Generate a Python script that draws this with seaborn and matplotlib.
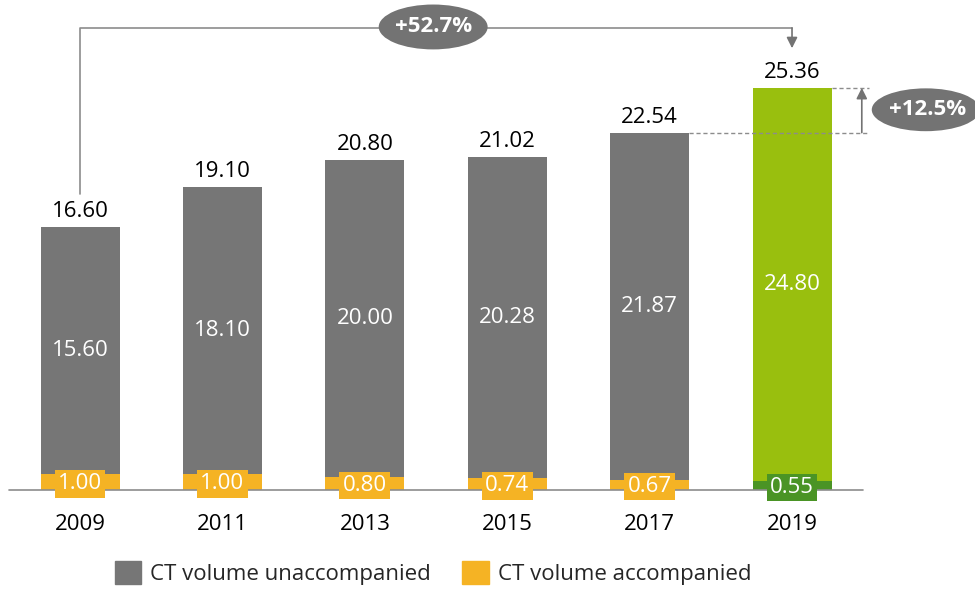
import matplotlib
matplotlib.use("Agg")
import matplotlib.pyplot as plt
from matplotlib.patches import Ellipse, Patch
import seaborn as sns

years = ["2009", "2011", "2013", "2015", "2017", "2019"]
unaccompanied = [15.60, 18.10, 20.00, 20.28, 21.87, 24.80]
accompanied = [1.00, 1.00, 0.80, 0.74, 0.67, 0.55]
totals = [16.60, 19.10, 20.80, 21.02, 22.54, 25.36]
growth_total = "+52.7%"
growth_last = "+12.5%"

GRAY = "#767676"
ORANGE = "#F5B324"
LIGHT_GREEN = "#99BF0E"
DARK_GREEN = "#4A9425"
ANNOT = "#737373"
LINE = "#8C8C8C"

top_colors = [GRAY] * 5 + [LIGHT_GREEN]
bottom_colors = [ORANGE] * 5 + [DARK_GREEN]

sns.set_theme(style="white")
plt.rcParams["font.family"] = ["Open Sans", "DejaVu Sans"]

fig = plt.figure(figsize=(9.75, 5.89), dpi=100)
ax = fig.add_axes([0, 0, 1, 1])

stack = [u + a for u, a in zip(unaccompanied, accompanied)]

# full stack first, bottom part drawn over it
sns.barplot(x=years, y=stack, hue=years, palette=top_colors, legend=False,
            width=0.555, saturation=1, linewidth=0, ax=ax, zorder=2)
sns.barplot(x=years, y=accompanied, hue=years, palette=bottom_colors,
            legend=False, width=0.555, saturation=1, linewidth=0, ax=ax,
            zorder=3)

ax.set_xlim(-0.562, 6.285)
ax.set_ylim(-6.23, 30.9)
ax.axis("off")

# baseline
ax.plot([-0.5, 5.5], [0, 0], color=LINE, lw=1.2, zorder=4)

fs = 16
for i, yr in enumerate(years):
    # total on top
    ax.text(i, totals[i] + 0.3, f"{totals[i]:.2f}", ha="center", va="bottom",
            fontsize=fs, color="black")
    # unaccompanied in middle
    mid = accompanied[i] + unaccompanied[i] / 2
    ax.text(i, mid, f"{unaccompanied[i]:.2f}", ha="center", va="center",
            fontsize=fs, color="white", zorder=5)
    # accompanied box label
    ax.text(i, accompanied[i] / 2 - 0.1, f"{accompanied[i]:.2f}",
            ha="center", va="center", fontsize=fs, color="white", zorder=6,
            bbox=dict(boxstyle="square,pad=0.15", fc=bottom_colors[i],
                      ec="none"))
    # year label
    ax.text(i, -2.15, yr, ha="center", va="center", fontsize=fs,
            color="black")

# +52.7% bracket from first to last year
y_top = 29.14
ax.plot([0, 0, 5], [totals[0] + 2.1, y_top, y_top], color=LINE, lw=1.2)
ax.annotate("", xy=(5, totals[-1] + 2.5), xytext=(5, y_top),
            arrowprops=dict(arrowstyle="-|>", color=ANNOT, lw=1.2,
                            mutation_scale=16, shrinkA=0, shrinkB=0))
ax.add_patch(Ellipse((2.48, 29.2), 0.765, 2.83, fc=ANNOT, ec="none",
                     zorder=5))
ax.text(2.48, 29.2, growth_total, ha="center", va="center", fontsize=fs,
        color="white", fontweight="bold", zorder=6)

# +12.5% marker on the right
right = 5.54
ax.plot([4 + 0.2775, right], [totals[4]] * 2, color=LINE, lw=1, ls="--",
        dashes=(3, 2))
ax.plot([5 + 0.2775, right], [totals[5]] * 2, color=LINE, lw=1, ls="--",
        dashes=(3, 2))
ax.annotate("", xy=(5.49, totals[5]), xytext=(5.49, totals[4]),
            arrowprops=dict(arrowstyle="-|>", color=ANNOT, lw=1.2,
                            mutation_scale=16, shrinkA=0, shrinkB=0))
ax.add_patch(Ellipse((5.94, 23.98), 0.76, 2.7, fc=ANNOT, ec="none",
                     zorder=5, clip_on=False))
ax.text(5.95, 23.98, growth_last, ha="center", va="center", fontsize=fs,
        color="white", fontweight="bold", zorder=6)

handles = [Patch(color=GRAY, label="CT volume unaccompanied"),
           Patch(color=ORANGE, label="CT volume accompanied")]
ax.legend(handles=handles, loc="center", ncol=2, frameon=False,
          bbox_to_anchor=(433 / 975, 1 - 573 / 589), fontsize=fs,
          handlelength=1.2, handleheight=1.2, handletextpad=0.4,
          columnspacing=1.4)

fig.savefig("out.png", dpi=100)
